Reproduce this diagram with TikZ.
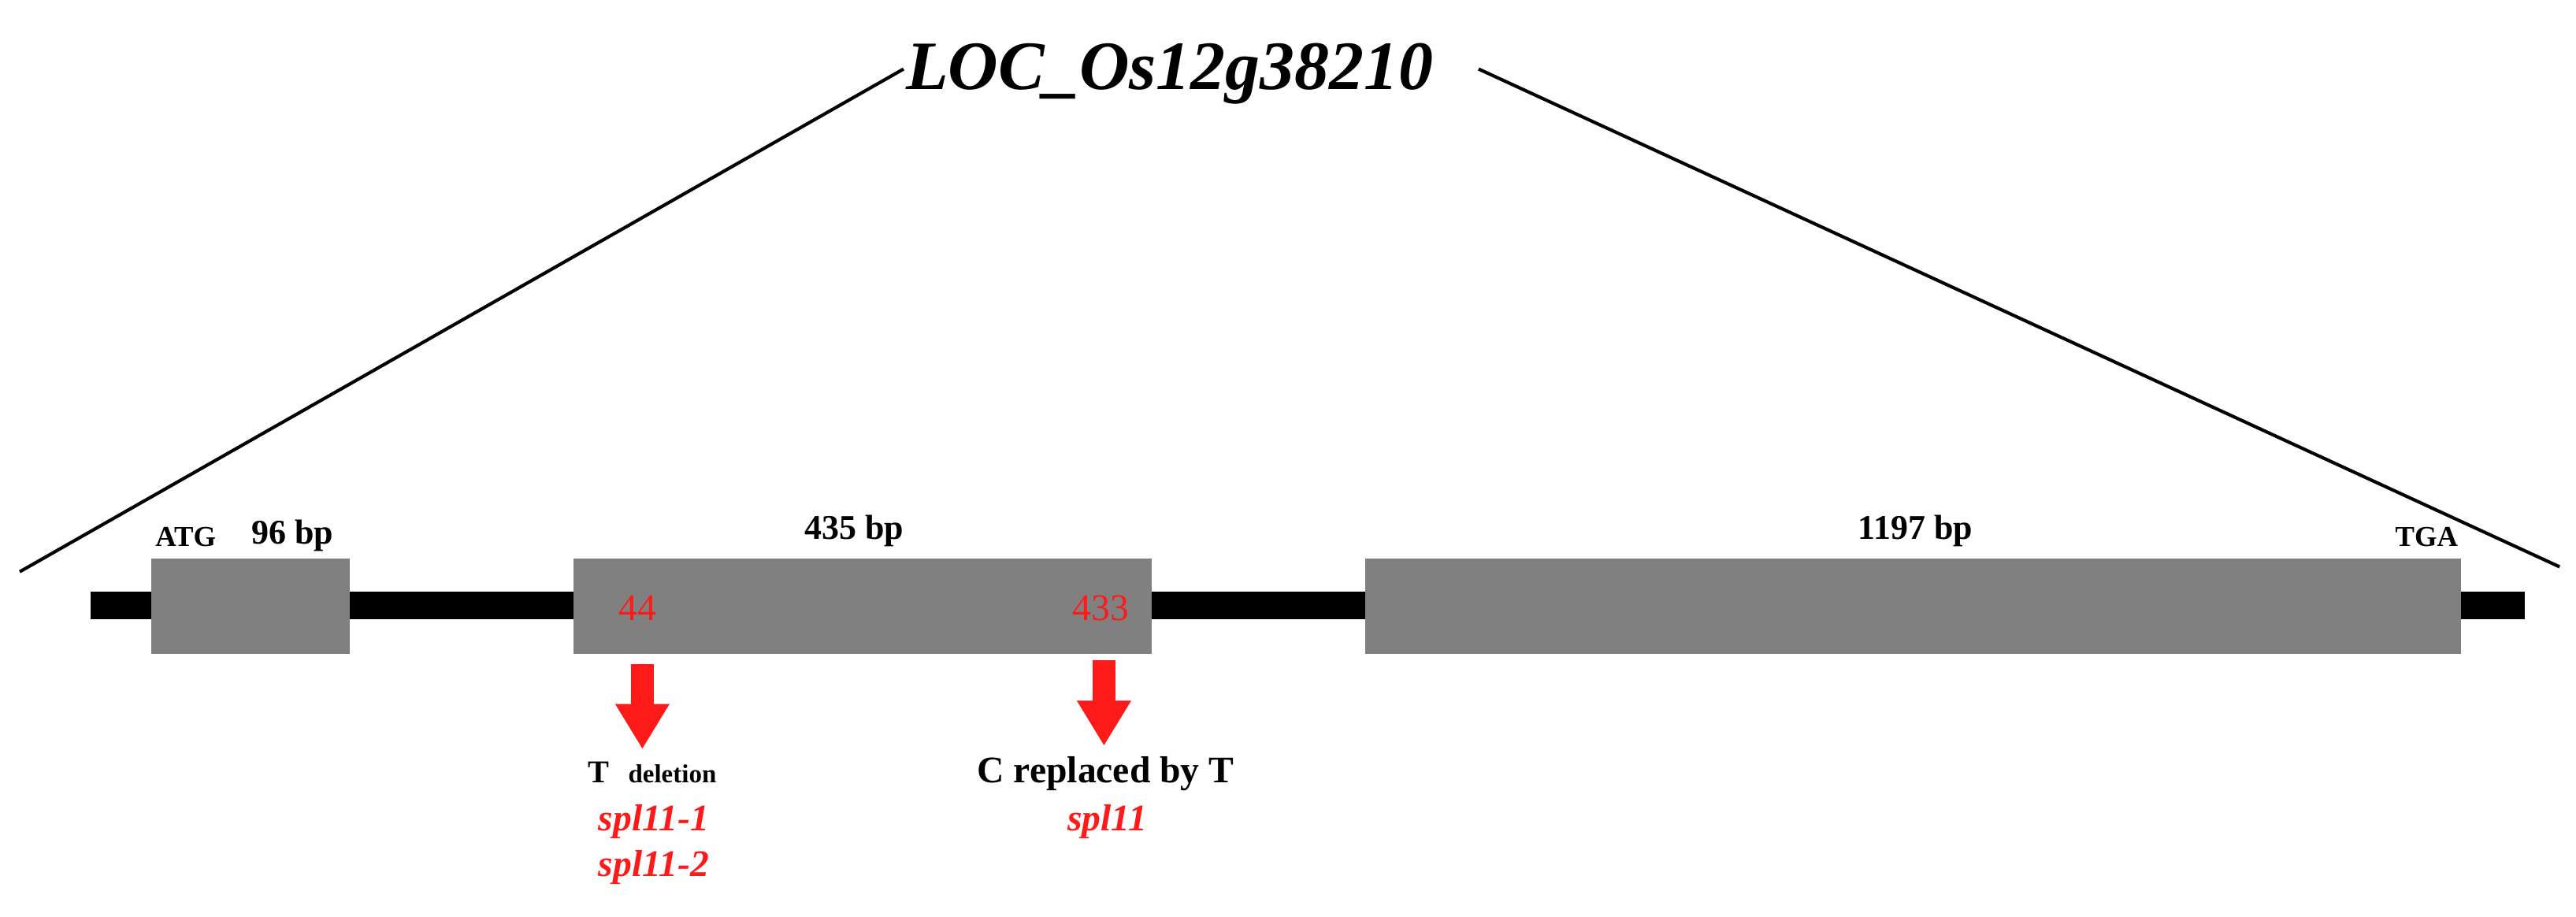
\documentclass[tikz,border=0pt]{standalone}
\usepackage{fontspec}
\setmainfont{Liberation Serif}
\usetikzlibrary{arrows.meta}
\definecolor{exon}{RGB}{128,128,128}
\definecolor{mut}{RGB}{255,26,26}
\begin{document}
\begin{tikzpicture}[x=0.02cm,y=-0.02cm,
  exonbox/.style={fill=exon,draw=none},
  lbl/.style={font=\bfseries\fontsize{12}{14}\selectfont,inner sep=0},
  red/.style={text=mut,font=\bfseries\itshape\fontsize{13}{15}\selectfont,inner sep=0},
  mutarrow/.style={draw=mut,line width=0.28cm,-{Triangle[length=0.55cm,width=0.62cm]},shorten >=0pt}]
\useasboundingbox (0,0) rectangle (1568,558);
\fill (55,360) rectangle (1537,377);
\fill[exonbox] (92,340) rectangle (213,398);
\fill[exonbox] (349,340) rectangle (701,398);
\fill[exonbox] (831,340) rectangle (1498,398);
\node[font=\bfseries\itshape\fontsize{24}{28}\selectfont,inner sep=2pt] (title) at (712,45) {LOC\_Os12g38210};
\coordinate (l1) at (12,348); \coordinate (l2) at (550,42);
\coordinate (r1) at (900,42); \coordinate (r2) at (1558,345);
\draw[line width=0.04cm] (l1) -- (l2);
\draw[line width=0.04cm] (r1) -- (r2);
\node[lbl,font=\bfseries\fontsize{10}{12}\selectfont] (atg) at (113,327) {ATG};
\node[lbl] (b96) at (178,326) {96 bp};
\node[lbl] (b435) at (520,323) {435 bp};
\node[lbl] (b1197) at (1166,323) {1197 bp};
\node[lbl,font=\bfseries\fontsize{10}{12}\selectfont] (tga) at (1477,327) {TGA};
\node[text=mut,font=\fontsize{13}{15}\selectfont,inner sep=0] (p44) at (388,370) {44};
\node[text=mut,font=\fontsize{13}{15}\selectfont,inner sep=0] (p433) at (670,370) {433};
\coordinate (a1s) at (391,404); \coordinate (a1e) at (391,456);
\coordinate (a2s) at (672,402); \coordinate (a2e) at (672,454);
\draw[mutarrow] (a1s) -- (a1e);
\draw[mutarrow] (a2s) -- (a2e);
\node[font=\bfseries\fontsize{11}{13}\selectfont,inner sep=0] (tdel) at (397,470) {T\hspace{0.6em}{\fontsize{9}{11}\selectfont deletion}};
\node[font=\bfseries\fontsize{13}{15}\selectfont,inner sep=0] (crep) at (673,471) {C replaced by T};
\node[red] (s1) at (398,500) {spl11-1};
\node[red] (s2) at (398,528) {spl11-2};
\node[red] (s3) at (674,500) {spl11};
\end{tikzpicture}
\end{document}
